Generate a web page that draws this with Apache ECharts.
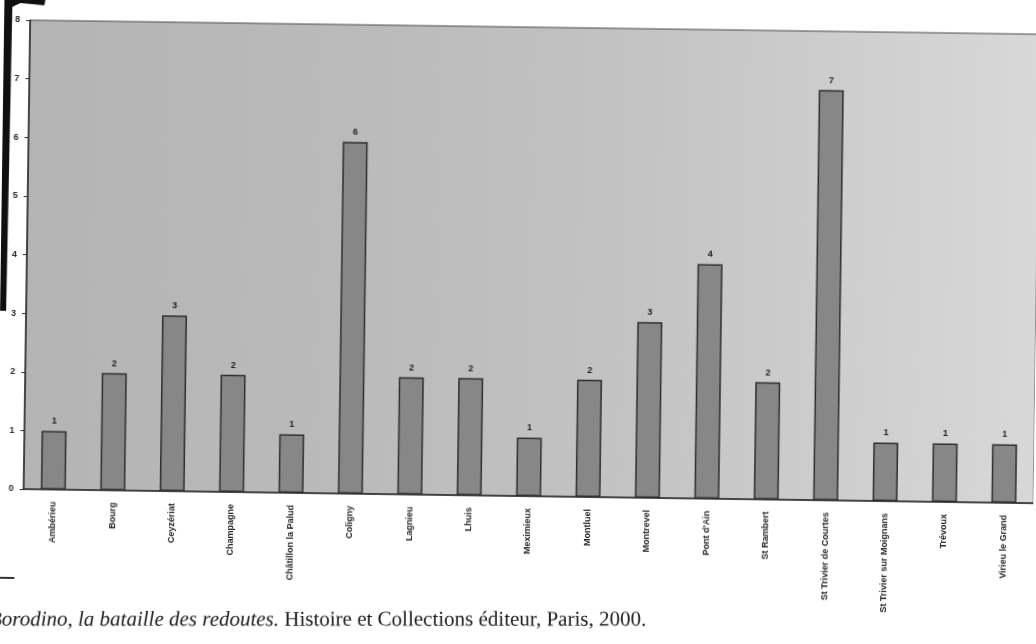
<!DOCTYPE html>
<html>
<head>
<meta charset="utf-8">
<script src="https://cdn.jsdelivr.net/npm/echarts@6/dist/echarts.min.js"></script>
<style>
  html, body { margin: 0; padding: 0; background: #ffffff; overflow: hidden; }
  #chart { width: 1036px; height: 644px; transform: rotate(0.8deg); transform-origin: 518px 322px; }
</style>
</head>
<body>
<div id="chart"></div>
<script>
// Communes of the Ain department and their counts
const communes = [
  "Ambérieu", "Bourg", "Ceyzériat", "Champagne", "Châtillon la Palud",
  "Coligny", "Lagnieu", "Lhuis", "Meximieux", "Montluel", "Montrevel",
  "Pont d'Ain", "St Rambert", "St Trivier de Courtes",
  "St Trivier sur Moignans", "Trévoux", "Virieu le Grand"
];
const counts = [1, 2, 3, 2, 1, 6, 2, 2, 1, 2, 3, 4, 2, 7, 1, 1, 1];
const yTicks = [0, 1, 2, 3, 4, 5, 6, 7, 8];

const footerTitle = "Borodino, la bataille des redoutes.";
const footerRest = " Histoire et Collections éditeur, Paris, 2000.";

const chart = echarts.init(document.getElementById('chart'), null, { renderer: 'canvas' });

chart.setOption({
  backgroundColor: '#ffffff',
  animation: false,
  grid: {
    left: 26, right: -8, top: 27, bottom: 148,
    show: true,
    backgroundColor: {
      type: 'linear', x: 0, y: 0, x2: 1, y2: 0,
      colorStops: [
        { offset: 0, color: '#b4b4b4' },
        { offset: 0.35, color: '#bbbbbb' },
        { offset: 0.6, color: '#c3c3c3' },
        { offset: 0.85, color: '#d0d0d0' },
        { offset: 1, color: '#d8d8d8' }
      ]
    },
    borderColor: '#4a4a4a',
    borderWidth: 1
  },
  xAxis: {
    type: 'category',
    data: communes,
    axisLine: { lineStyle: { color: '#2b2b2b', width: 1.5 } },
    axisTick: { show: false },
    axisLabel: {
      rotate: 90, interval: 0, margin: 12,
      fontFamily: 'Liberation Sans, Arial, sans-serif',
      fontSize: 9, fontWeight: 'bold', color: '#2a2a2a'
    }
  },
  yAxis: {
    type: 'value',
    min: yTicks[0], max: yTicks[yTicks.length - 1], interval: 1,
    axisLine: { show: true, lineStyle: { color: '#2b2b2b', width: 1.5 } },
    axisTick: { show: true, length: 4, lineStyle: { color: '#2b2b2b' } },
    splitLine: { show: false },
    axisLabel: {
      margin: 10,
      fontFamily: 'Liberation Sans, Arial, sans-serif',
      fontSize: 9, fontWeight: 'bold', color: '#2a2a2a'
    }
  },
  series: [{
    type: 'bar',
    data: counts,
    barWidth: 25,
    itemStyle: { color: '#878787', borderColor: '#2e2e2e', borderWidth: 1.5 },
    label: {
      show: true, position: 'top', distance: 5,
      fontFamily: 'Liberation Sans, Arial, sans-serif',
      fontSize: 9, fontWeight: 'bold', color: '#222'
    }
  }],
  graphic: [
    // dark page edge at the top-left corner
    {
      type: 'polygon', z: 100,
      shape: { points: [[-6, 0], [42, 0], [40, 12], [16, 10], [8, 14], [6, 318], [-6, 318]] },
      style: { fill: '#101010' }
    },
    // footnote rule
    {
      type: 'rect', z: 100,
      shape: { x: -2, y: 584, width: 20, height: 2 },
      style: { fill: '#333' }
    },
    // bibliography line below the chart
    {
      type: 'text', z: 100,
      x: -7, y: 617,
      rotation: 0.014,
      style: {
        text: '{i|' + footerTitle + '}{n|' + footerRest + '}',
        rich: {
          i: { fontFamily: 'Liberation Serif, Times New Roman, serif', fontStyle: 'italic', fontSize: 21, fill: '#1a1a1a' },
          n: { fontFamily: 'Liberation Serif, Times New Roman, serif', fontSize: 21, fill: '#1a1a1a' }
        }
      }
    }
  ]
});
</script>
</body>
</html>
